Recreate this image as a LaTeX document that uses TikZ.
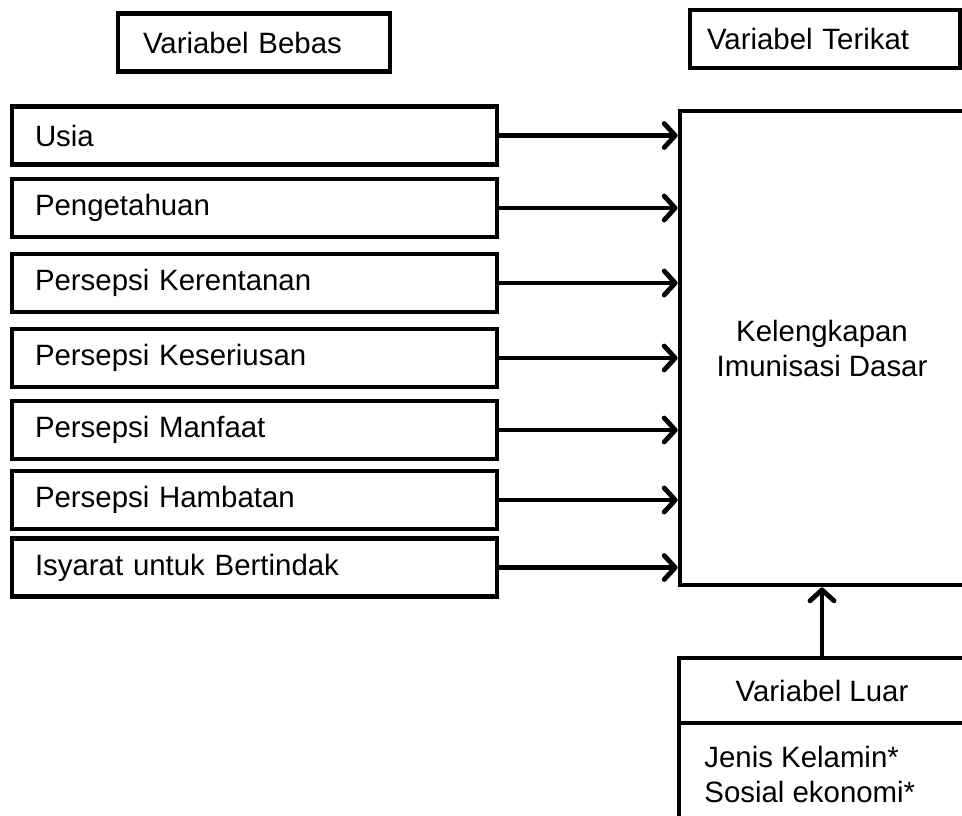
\documentclass[tikz,border=0pt]{standalone}
\usepackage{fontspec}
\setmainfont{Liberation Sans}
\usetikzlibrary{arrows.meta}

\begin{document}
\begin{tikzpicture}[x=0.5pt,y=-0.5pt,line width=2.4pt,
    font=\fontsize{14.7}{17.5}\selectfont,
    >={Straight Barb[length=5.5pt,width=12pt,round]},
    box/.style={draw,inner ysep=0pt,minimum height=29pt},
    var/.style={box,inner xsep=11.5pt,text width=219.5pt,align=left}]
\useasboundingbox (0,0) rectangle (962,815);

\node [box,inner xsep=12.5pt,text width=111pt,align=left]
                        (bebas)   at (254,42.5)  {Variabel Bebas};
\node [box,inner xsep=8.5pt,text width=118pt,align=left]
                        (terikat) at (825,39)    {Variabel Terikat};

\node [var]             (usia)    at (254.5,135.5) {Usia};
\node [var]             (tahu)    at (254.5,208)   {Pengetahuan};
\node [var]             (rentan)  at (254.5,283)   {Persepsi Kerentanan};
\node [var]             (serius)  at (254.5,358)   {Persepsi Keseriusan};
\node [var]             (manfaat) at (254.5,430)   {Persepsi Manfaat};
\node [var]             (hambat)  at (254.5,500)   {Persepsi Hambatan};
\node [var]             (isyarat) at (254.5,567.5) {Isyarat untuk Bertindak};

\node [box,minimum width=142pt,minimum height=237pt,align=center]
                        (imun)    at (822,348) {Kelengkapan\\Imunisasi Dasar};

\node [box,minimum width=143pt,minimum height=32.5pt]
                        (luar)    at (822,690.5) {Variabel Luar};
\node [box,anchor=north,outer sep=0pt,minimum width=143pt,minimum height=75pt]
                        (luarisi) at ([yshift=1.2pt]luar.south) {};
\node [anchor=north west,align=left,inner sep=0pt]
                        (luarteks) at ([xshift=11.5pt,yshift=-10.5pt]luarisi.north west)
                        {Jenis Kelamin*\\Sosial ekonomi*};

\foreach \v in {usia,tahu,rentan,serius,manfaat,hambat,isyarat}
  \draw [->] (\v.east) -- (\v.east -| imun.west);
\draw [->] (luar.north) -- (imun.south);
\end{tikzpicture}
\end{document}
